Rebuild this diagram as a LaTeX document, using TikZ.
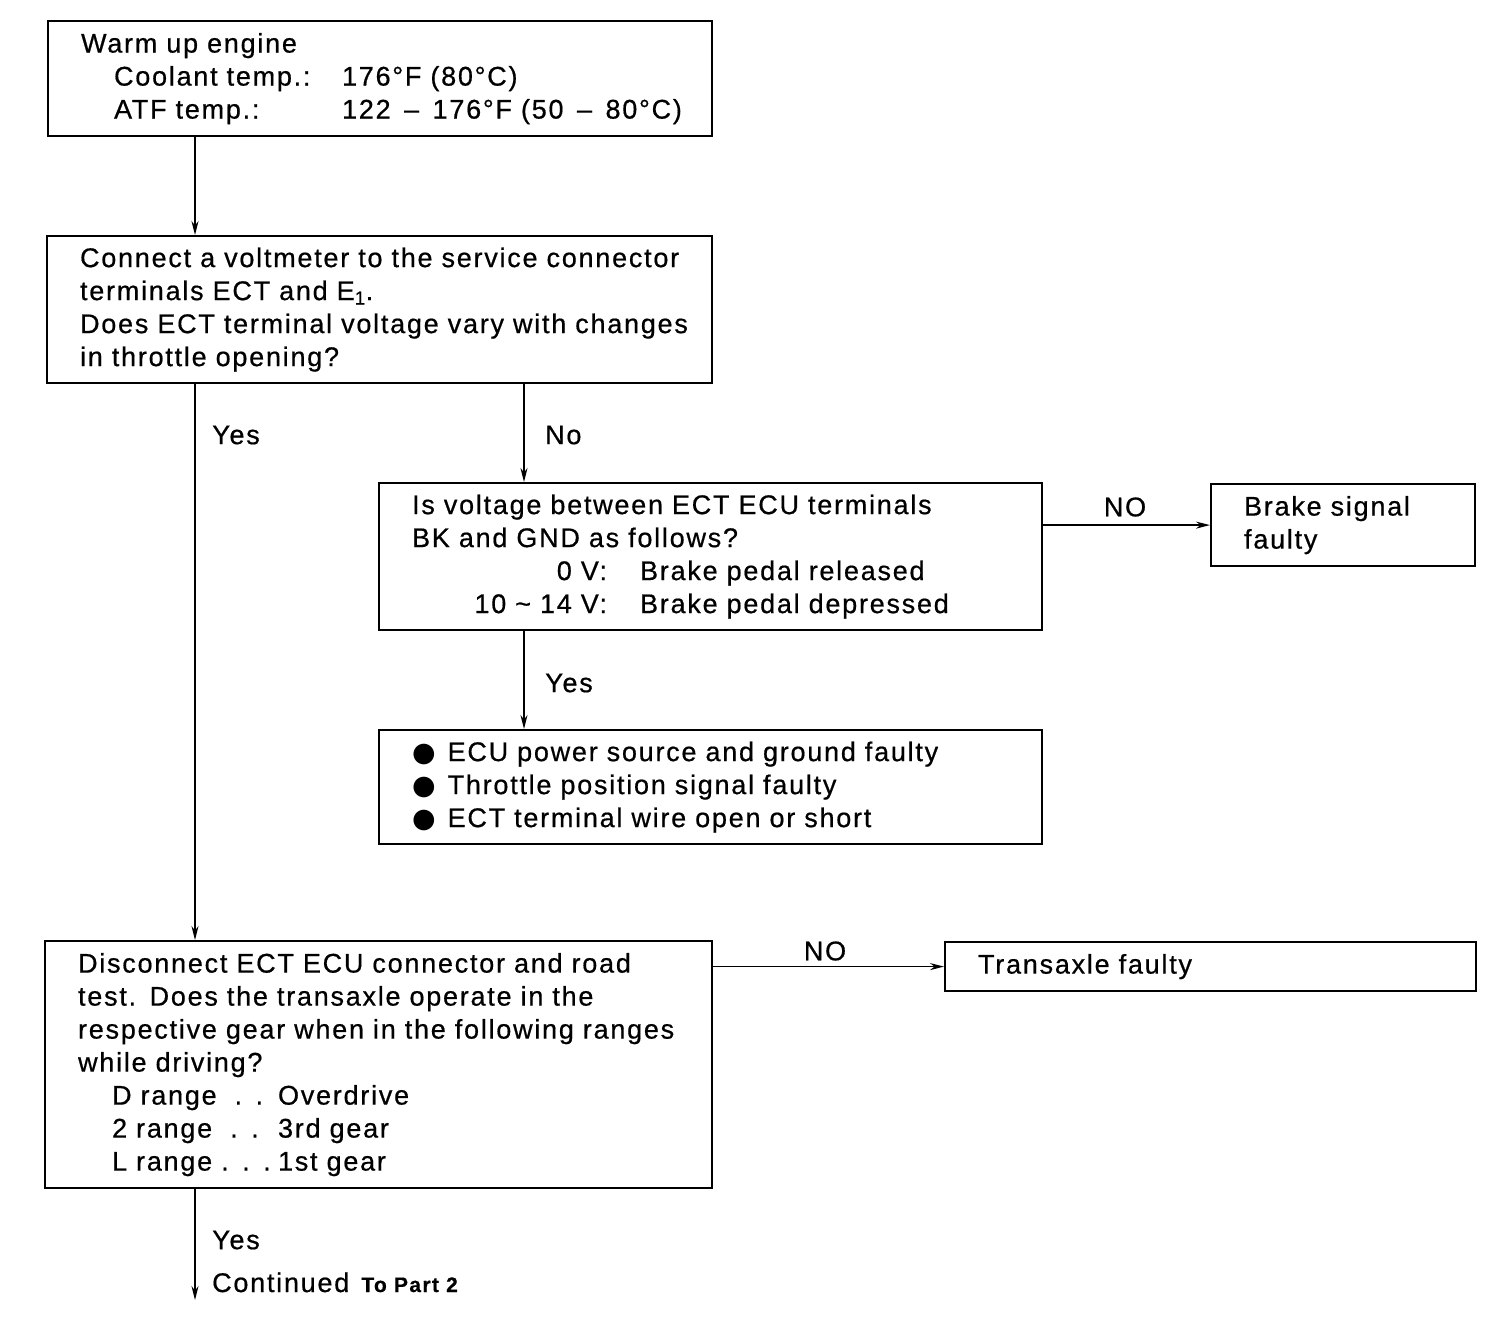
\documentclass[tikz,border=0pt]{standalone}
\usepackage{fontspec}
\setmainfont[LetterSpace=6.5,FakeBold=0.6]{Liberation Sans}
\newfontfamily\dejavu{DejaVu Sans}
\usetikzlibrary{arrows.meta}
\begin{document}
\begin{tikzpicture}[x=1pt,y=-1pt,
  every node/.style={font=\fontsize{27}{33}\selectfont},
  box/.style={draw,line width=2.2pt,anchor=north west,inner xsep=33pt,inner ysep=0pt,align=left},
  conn/.style={line width=1.6pt,-{Stealth[length=14pt,width=7pt]}},
  lab/.style={inner sep=0pt}]
\useasboundingbox (0,0) rectangle (1504,1338);
\coordinate (L) at (195,0);
\coordinate (M) at (524,0);
% boxes
\node[box,minimum width=664pt,minimum height=115pt,text width=598pt] (b1) at (47,20)
  {Warm up engine\\
   \mbox{\hspace*{33pt}\makebox[228pt][l]{Coolant temp.:}176°F (80°C)}\\
   \mbox{\hspace*{33pt}\makebox[228pt][l]{ATF temp.:}122 \,–\, 176°F (50 \,–\, 80°C)}};
\node[box,minimum width=665pt,minimum height=147pt,text width=599pt] (b2) at (46,235)
  {\mbox{Connect a voltmeter to the service connector}\\
   \mbox{terminals ECT and E\textsubscript{1}.}\\
   \mbox{Does ECT terminal voltage vary with changes}\\
   \mbox{in throttle opening?}};
\node[box,minimum width=663pt,minimum height=147pt,text width=597pt] (b3) at (378,482)
  {\mbox{Is voltage between ECT ECU terminals}\\
   \mbox{BK and GND as follows?}\\
   \mbox{\makebox[195pt][r]{0 V:}\hspace*{33pt}Brake pedal released}\\
   \mbox{\makebox[195pt][r]{10 \textasciitilde\ 14 V:}\hspace*{33pt}Brake pedal depressed}};
\node[box,minimum width=264pt,minimum height=82pt,text width=198pt] (bs) at (1210,483)
  {Brake signal\\ faulty};
\node[box,minimum width=663pt,minimum height=114pt,text width=597pt] (b5) at (378,729)
  {\mbox{{\dejavu ●}\hspace{12pt}ECU power source and ground faulty}\\
   \mbox{{\dejavu ●}\hspace{12pt}Throttle position signal faulty}\\
   \mbox{{\dejavu ●}\hspace{12pt}ECT terminal wire open or short}};
\node[box,minimum width=667pt,minimum height=247pt,text width=601pt] (b4) at (44,940)
  {\mbox{Disconnect ECT ECU connector and road}\\
   \mbox{test. Does the transaxle operate in the}\\
   \mbox{respective gear when in the following ranges}\\
   \mbox{while driving?}\\
   \mbox{\hspace*{34pt}\makebox[166pt][l]{D range\hspace{18pt}. .}Overdrive}\\
   \mbox{\hspace*{34pt}\makebox[166pt][l]{2 range\hspace{18pt}. .}3rd gear}\\
   \mbox{\hspace*{34pt}\makebox[166pt][l]{L range . . .}1st gear}};
\node[box,minimum width=531pt,minimum height=49pt,text width=465pt] (tx) at (944,941)
  {Transaxle faulty};
\coordinate (end) at (195,1300);
% connectors
\draw[conn] (b1.south -| L) -- (b2.north -| L);
\draw[conn] (b2.south -| L) -- (b4.north -| L);
\draw[conn] (b2.south -| M) -- (b3.north -| M);
\draw[conn] (b3.south -| M) -- (b5.north -| M);
\draw[conn] (b3.east |- bs.west) -- (bs.west);
\draw[conn] (b4.east |- tx.west) -- (tx.west);
\draw[conn] (b4.south -| L) -- (end);
% labels
\node[lab,anchor=west] (y1) at (212,435) {Yes};
\node[lab,anchor=west] (n1) at (545,435) {No};
\node[lab] (n2) at (1125,507) {NO};
\node[lab,anchor=west] (y2) at (545,683) {Yes};
\node[lab] (n3) at (825,951) {NO};
\node[lab,anchor=west] (y3) at (212,1240) {Yes};
\node[lab,anchor=base west] (cont) at (212,1292) {Continued\hspace{12pt}{\fontsize{21}{25}\selectfont\bfseries To Part 2}};
\end{tikzpicture}
\end{document}
